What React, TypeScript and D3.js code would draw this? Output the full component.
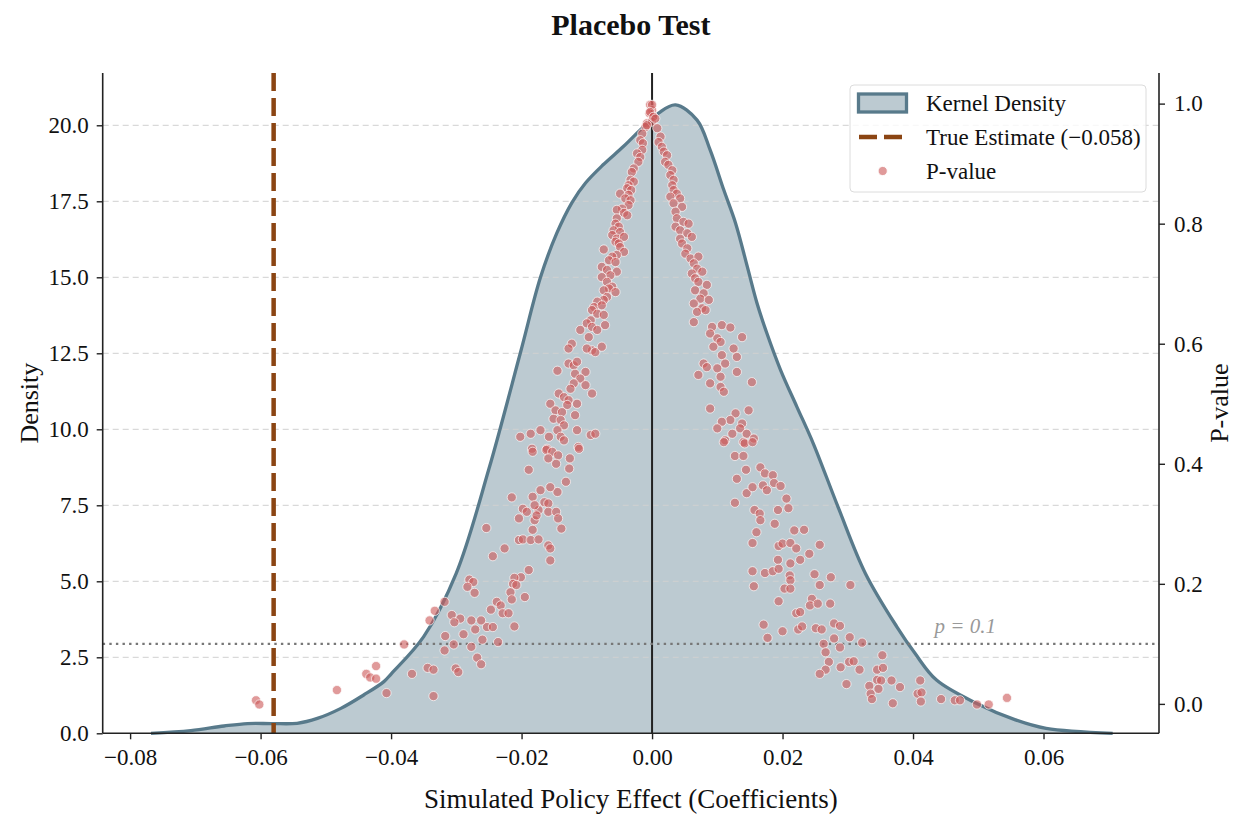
import { useEffect, useRef } from 'react';
import * as d3 from 'd3';

// Kernel density curve (coefficient, density)
const kdeCoef = [
  -0.0768, -0.0707, -0.0656, -0.062, -0.0582, -0.0544, -0.0513, -0.0477, -0.0442, -0.0411,
  -0.04, -0.035, -0.03, -0.025, -0.0202, -0.0171, -0.0146, -0.0123, -0.0102, -0.0075,
  -0.0044, -0.0018, 0.001, 0.0036, 0.0069, 0.0089, 0.011, 0.0128, 0.0146, 0.0161,
  0.0176, 0.0197, 0.0222, 0.0247, 0.0285, 0.0327, 0.0375, 0.0403, 0.0436, 0.0497,
  0.0557, 0.0604, 0.0706,
];
const kdeDensity = [
  0.0, 0.09, 0.24, 0.32, 0.32, 0.33, 0.49, 0.82, 1.26, 1.7,
  1.95, 3.18, 5.27, 8.7, 12.5, 15.0, 16.45, 17.45, 18.1, 18.7,
  19.3, 19.85, 20.4, 20.67, 20.17, 19.19, 17.87, 16.78, 15.35, 14.14,
  13.16, 11.95, 10.74, 9.54, 7.45, 5.26, 3.51, 2.63, 1.75, 0.99,
  0.44, 0.16, 0.0,
];

// Placebo draws: [simulated coefficient, p-value]
const placeboDraws: [number, number][] = [
  [-0.0003, 0.998], [0.0, 0.989], [-0.0004, 0.984], [0.0002, 0.978], [-0.0008, 0.967], [-0.001, 0.961], [0.0, 0.97],
  [-0.0015, 0.95], [-0.0018, 0.939], [-0.0014, 0.934], [-0.0015, 0.923], [-0.0023, 0.917], [-0.0018, 0.911], [-0.0021, 0.903],
  [-0.0028, 0.892], [-0.0031, 0.886], [-0.0033, 0.873], [-0.0028, 0.87], [-0.0036, 0.864], [-0.0038, 0.859], [-0.0032, 0.856],
  [-0.0049, 0.85], [-0.0036, 0.848], [-0.0041, 0.842], [-0.0033, 0.839], [-0.0036, 0.831], [-0.0046, 0.825], [-0.0054, 0.823],
  [-0.0043, 0.818], [-0.0038, 0.814], [-0.0054, 0.809], [-0.0056, 0.8], [-0.0051, 0.795], [-0.0059, 0.789], [-0.0049, 0.786],
  [-0.0061, 0.781], [-0.0054, 0.775], [-0.0043, 0.778], [-0.0056, 0.77], [-0.0051, 0.767], [-0.0049, 0.761], [-0.0043, 0.753],
  [-0.0074, 0.757], [-0.0054, 0.748], [-0.0061, 0.745], [-0.0066, 0.739], [-0.0056, 0.736], [-0.0077, 0.728], [-0.0069, 0.723],
  [-0.0054, 0.72], [-0.0064, 0.714], [-0.0077, 0.711], [-0.0069, 0.703], [-0.0061, 0.695], [-0.0066, 0.692], [-0.0056, 0.686],
  [-0.0074, 0.689], [-0.0069, 0.678], [-0.0074, 0.673], [-0.0084, 0.67], [-0.0089, 0.661], [-0.0077, 0.664], [-0.0092, 0.656],
  [-0.0084, 0.65], [-0.0074, 0.648], [-0.0094, 0.639], [-0.0072, 0.631], [-0.01, 0.634], [-0.0092, 0.628], [-0.0084, 0.623],
  [-0.0097, 0.611], [-0.011, 0.623], [-0.0092, 0.589], [-0.01, 0.592], [-0.0087, 0.586], [-0.0077, 0.595], [-0.0123, 0.6],
  [-0.0128, 0.592], [-0.0128, 0.567], [-0.012, 0.564], [-0.0115, 0.57], [-0.0102, 0.553], [-0.0145, 0.555], [-0.0118, 0.55],
  [-0.011, 0.542], [-0.012, 0.534], [-0.0102, 0.531], [-0.0125, 0.525], [-0.0092, 0.517], [-0.0143, 0.517], [-0.0135, 0.511],
  [-0.0128, 0.506], [-0.0115, 0.5], [-0.0156, 0.5], [-0.013, 0.498], [-0.0148, 0.489], [-0.0138, 0.486], [-0.0118, 0.481],
  [-0.0151, 0.475], [-0.014, 0.473], [-0.0135, 0.464], [-0.0145, 0.456], [-0.0115, 0.456], [-0.0171, 0.456], [-0.0186, 0.45],
  [-0.0202, 0.445], [-0.0158, 0.445], [-0.014, 0.445], [-0.0094, 0.448], [-0.0087, 0.45], [-0.0135, 0.439], [-0.0184, 0.425],
  [-0.0161, 0.425], [-0.0113, 0.428],
  [0.0, 0.998], [-0.0003, 0.986], [0.0002, 0.978], [-0.0008, 0.964], [0.0005, 0.975], [0.0008, 0.959], [0.0013, 0.945],
  [0.001, 0.936], [0.0015, 0.928], [0.0018, 0.92], [0.0023, 0.914], [0.002, 0.903], [0.0025, 0.898], [0.0031, 0.889],
  [0.0028, 0.881], [0.0033, 0.873], [0.0031, 0.864], [0.0033, 0.856], [0.0038, 0.85], [0.0028, 0.845], [0.0043, 0.842],
  [0.0033, 0.834], [0.0046, 0.828], [0.0036, 0.82], [0.0038, 0.809], [0.0048, 0.803], [0.0056, 0.8], [0.0036, 0.795],
  [0.0043, 0.789], [0.0054, 0.784], [0.0061, 0.778], [0.0043, 0.775], [0.0046, 0.767], [0.0054, 0.759], [0.0051, 0.75],
  [0.0059, 0.742], [0.0071, 0.745], [0.0064, 0.734], [0.0069, 0.725], [0.0077, 0.72], [0.0061, 0.717], [0.0066, 0.709],
  [0.0071, 0.703], [0.0084, 0.698], [0.0066, 0.689], [0.0079, 0.684], [0.0074, 0.675], [0.0087, 0.673], [0.0064, 0.667],
  [0.0077, 0.659], [0.0069, 0.653], [0.0082, 0.656], [0.0064, 0.636], [0.0092, 0.628], [0.0107, 0.631], [0.012, 0.627],
  [0.0089, 0.617], [0.01, 0.609], [0.0105, 0.603], [0.0138, 0.611], [0.0094, 0.595], [0.0125, 0.592], [0.0107, 0.581],
  [0.013, 0.578], [0.0112, 0.567], [0.0079, 0.567], [0.0084, 0.561], [0.01, 0.559], [0.0071, 0.548], [0.0089, 0.534],
  [0.0105, 0.545], [0.0105, 0.528], [0.011, 0.52], [0.013, 0.553], [0.0153, 0.536], [0.0089, 0.492], [0.0128, 0.484],
  [0.0148, 0.489], [0.012, 0.473], [0.0138, 0.467], [0.0107, 0.47], [0.01, 0.459], [0.0135, 0.459], [0.0123, 0.45],
  [0.0145, 0.45], [0.0112, 0.439], [0.014, 0.436], [0.0156, 0.442],
  [-0.0183, 0.42], [-0.0162, 0.423], [-0.0153, 0.42], [-0.0144, 0.414], [-0.0159, 0.409], [-0.0126, 0.409], [-0.0147, 0.4],
  [-0.0189, 0.39], [-0.0127, 0.392], [-0.0112, 0.425], [-0.0132, 0.37], [-0.0145, 0.353], [-0.0171, 0.356], [-0.0156, 0.361],
  [-0.0215, 0.344], [-0.0183, 0.345], [-0.0198, 0.325], [-0.0165, 0.336], [-0.0159, 0.334], [-0.0174, 0.323], [-0.018, 0.331],
  [-0.0192, 0.32], [-0.0204, 0.309], [-0.018, 0.306], [-0.0159, 0.32], [-0.0177, 0.314], [-0.0147, 0.32], [-0.0144, 0.309],
  [-0.0183, 0.29], [-0.0139, 0.292], [-0.0254, 0.293], [-0.0204, 0.273], [-0.0198, 0.274], [-0.0186, 0.273], [-0.0174, 0.274],
  [-0.0159, 0.264], [-0.0156, 0.259], [-0.0226, 0.259], [-0.0244, 0.246], [-0.0156, 0.239], [-0.0189, 0.223], [-0.0201, 0.211],
  [-0.0211, 0.21], [-0.028, 0.207], [-0.0274, 0.203], [-0.0213, 0.2], [-0.0208, 0.198], [-0.0283, 0.195], [-0.0272, 0.185],
  [-0.0217, 0.186], [-0.0195, 0.178], [-0.0215, 0.174], [-0.0318, 0.17], [-0.0238, 0.17], [-0.0232, 0.164], [-0.0247, 0.157],
  [-0.0333, 0.155], [-0.0229, 0.151], [-0.022, 0.151], [-0.0307, 0.148], [-0.0294, 0.142], [-0.0277, 0.139], [-0.0262, 0.139],
  [-0.0303, 0.136], [-0.0341, 0.139], [-0.0211, 0.129], [-0.0253, 0.128], [-0.0244, 0.128], [-0.0271, 0.124], [-0.0289, 0.116],
  [-0.0317, 0.113], [-0.026, 0.107], [-0.0236, 0.103], [-0.0304, 0.099], [-0.038, 0.099], [-0.0277, 0.095], [-0.0318, 0.089],
  [-0.0268, 0.077], [-0.0262, 0.066], [-0.0344, 0.06], [-0.0335, 0.057], [-0.0301, 0.059], [-0.0297, 0.053], [-0.0368, 0.05],
  [-0.0423, 0.063], [-0.0438, 0.05], [-0.0432, 0.044], [-0.0423, 0.042], [-0.0407, 0.018], [-0.0483, 0.023], [-0.0335, 0.013],
  [-0.0607, 0.006], [-0.0602, -0.001],
  [0.011, 0.436], [0.0142, 0.434], [0.0154, 0.436], [0.0127, 0.413], [0.014, 0.413], [0.0144, 0.39], [0.013, 0.375],
  [0.0166, 0.394], [0.0173, 0.384], [0.0185, 0.381], [0.0145, 0.351], [0.0127, 0.335], [0.0154, 0.361], [0.017, 0.364],
  [0.0176, 0.356], [0.0187, 0.368], [0.0197, 0.363], [0.0206, 0.342], [0.0209, 0.326], [0.0157, 0.323], [0.0165, 0.317],
  [0.0166, 0.306], [0.0193, 0.323], [0.0188, 0.3], [0.0218, 0.289], [0.0233, 0.29], [0.016, 0.286], [0.0154, 0.268],
  [0.0194, 0.263], [0.02, 0.267], [0.0212, 0.268], [0.0221, 0.259], [0.0257, 0.265], [0.0241, 0.25], [0.0193, 0.24],
  [0.0212, 0.234], [0.0227, 0.24], [0.0154, 0.221], [0.0173, 0.218], [0.0185, 0.221], [0.0194, 0.225], [0.0211, 0.214],
  [0.0212, 0.206], [0.0249, 0.216], [0.0274, 0.211], [0.0304, 0.198], [0.0257, 0.198], [0.0156, 0.196], [0.0203, 0.192],
  [0.0212, 0.192], [0.0245, 0.175], [0.0242, 0.164], [0.0254, 0.167], [0.0273, 0.167], [0.0194, 0.171], [0.0221, 0.151],
  [0.0227, 0.153], [0.0171, 0.132], [0.02, 0.121], [0.0224, 0.124], [0.023, 0.129], [0.0251, 0.126], [0.026, 0.124],
  [0.0279, 0.134], [0.0288, 0.13], [0.0177, 0.11], [0.0263, 0.1], [0.0279, 0.109], [0.0303, 0.111], [0.0322, 0.102],
  [0.0288, 0.094], [0.0266, 0.086], [0.0271, 0.07], [0.0302, 0.07], [0.0309, 0.071], [0.0318, 0.057], [0.0289, 0.061],
  [0.0266, 0.057], [0.0257, 0.05], [0.0353, 0.081], [0.0345, 0.057], [0.0354, 0.06], [0.0298, 0.033], [0.0333, 0.03],
  [0.0345, 0.04], [0.0351, 0.039], [0.0367, 0.039], [0.038, 0.028], [0.0347, 0.025], [0.0335, 0.017], [0.0337, 0.008],
  [0.0369, 0.001], [0.0411, 0.039], [0.0407, 0.017], [0.0413, 0.019], [0.0412, 0.004], [0.0443, 0.008], [0.0464, 0.006],
  [0.0472, 0.006], [0.0498, -0.001], [0.0516, -0.001], [0.0544, 0.01],
];

const xTicks = [-0.08, -0.06, -0.04, -0.02, 0, 0.02, 0.04, 0.06];
const densityTicks = [0, 2.5, 5, 7.5, 10, 12.5, 15, 17.5, 20];
const pTicks = [0, 0.2, 0.4, 0.6, 0.8, 1.0];
const trueEstimate = -0.058;
const pThreshold = 0.1;
const legendLabels = ['Kernel Density', 'True Estimate (\u22120.058)', 'P-value'];

const SERIF = "'Liberation Serif', 'Times New Roman', Times, serif";
const KDE_COLOR = '#587a8b';
const DOT_COLOR = '#cd5c5c';
const EST_COLOR = '#8b4513';

export default function App() {
  const svgRef = useRef<SVGSVGElement>(null);

  useEffect(() => {
    if (!svgRef.current) return;
    const svg = d3.select(svgRef.current);
    svg.selectAll('*').remove();

    const width = 1238;
    const height = 824;
    const margin = { top: 73, right: 79, bottom: 90.7, left: 102.7 };
    const innerW = width - margin.left - margin.right;
    const innerH = height - margin.top - margin.bottom;

    const x = d3.scaleLinear().domain([-0.0842, 0.0777]).range([0, innerW]);
    const yD = d3.scaleLinear().domain([0, 21.72]).range([innerH, 0]);
    const yP = d3.scaleLinear().domain([-0.049, 1.051]).range([innerH, 0]);

    const g = svg.append('g').attr('transform', `translate(${margin.left},${margin.top})`);

    // KDE fill
    const kde = kdeCoef.map((c, i) => ({ c, d: kdeDensity[i] }));
    const smooth = d3.curveCatmullRom.alpha(0.5);
    const area = d3.area<{ c: number; d: number }>()
      .x(d => x(d.c))
      .y0(yD(0))
      .y1(d => yD(d.d))
      .curve(smooth);
    g.append('path')
      .datum(kde)
      .attr('d', area)
      .attr('fill', KDE_COLOR)
      .attr('fill-opacity', 0.4);

    // grid lines (density ticks)
    g.append('g')
      .selectAll('line')
      .data(densityTicks.filter(t => t > 0))
      .enter().append('line')
      .attr('x1', 0)
      .attr('x2', innerW)
      .attr('y1', d => yD(d))
      .attr('y2', d => yD(d))
      .attr('stroke', '#d0d0d0')
      .attr('stroke-opacity', 0.8)
      .attr('stroke-width', 1.2)
      .attr('stroke-dasharray', '6,4');

    // KDE outline
    const line = d3.line<{ c: number; d: number }>()
      .x(d => x(d.c))
      .y(d => yD(d.d))
      .curve(smooth);
    g.append('path')
      .datum(kde)
      .attr('d', line)
      .attr('fill', 'none')
      .attr('stroke', KDE_COLOR)
      .attr('stroke-width', 3.3);

    // zero line
    g.append('line')
      .attr('x1', x(0)).attr('x2', x(0))
      .attr('y1', 0).attr('y2', innerH)
      .attr('stroke', '#222')
      .attr('stroke-width', 2);

    // true estimate
    g.append('line')
      .attr('x1', x(trueEstimate)).attr('x2', x(trueEstimate))
      .attr('y1', 0).attr('y2', innerH)
      .attr('stroke', EST_COLOR)
      .attr('stroke-width', 4.5)
      .attr('stroke-dasharray', '18,7');

    // p = 0.1 threshold
    g.append('line')
      .attr('x1', 0).attr('x2', innerW)
      .attr('y1', yP(pThreshold)).attr('y2', yP(pThreshold))
      .attr('stroke', '#777')
      .attr('stroke-width', 2.4)
      .attr('stroke-dasharray', '2.4,4.2');

    g.append('text')
      .attr('x', x(0.0433))
      .attr('y', yP(pThreshold) - 11)
      .style('font-family', SERIF)
      .style('font-style', 'italic')
      .style('font-size', '21px')
      .style('fill', '#999')
      .text('p = 0.1');

    // p-value scatter
    g.append('g')
      .selectAll('circle')
      .data(placeboDraws)
      .enter().append('circle')
      .attr('cx', d => x(d[0]))
      .attr('cy', d => yP(d[1]))
      .attr('r', 4.6)
      .attr('fill', DOT_COLOR)
      .attr('fill-opacity', 0.62)
      .attr('stroke', '#fff')
      .attr('stroke-opacity', 0.75)
      .attr('stroke-width', 0.9);

    // axes
    const fmt1 = d3.format('.1f');
    const bottomAxis = g.append('g')
      .attr('transform', `translate(0,${innerH})`)
      .call(d3.axisBottom(x).tickValues(xTicks).tickFormat(d3.format('.2f')).tickSize(6).tickSizeOuter(0).tickPadding(9));
    const leftAxis = g.append('g')
      .call(d3.axisLeft(yD).tickValues(densityTicks).tickFormat(d => fmt1(d as number)).tickSize(6).tickSizeOuter(0).tickPadding(8));
    const rightAxis = g.append('g')
      .attr('transform', `translate(${innerW},0)`)
      .call(d3.axisRight(yP).tickValues(pTicks).tickFormat(d => fmt1(d as number)).tickSize(6).tickSizeOuter(0).tickPadding(9));

    [bottomAxis, leftAxis, rightAxis].forEach(ax => {
      ax.select('.domain').remove();
      ax.selectAll('line').attr('stroke', '#222').attr('stroke-width', 1.4);
      ax.selectAll('text')
        .style('font-family', SERIF)
        .style('font-size', '23px')
        .style('fill', '#111');
    });

    // spines
    const spine = (x1: number, y1: number, x2: number, y2: number) =>
      g.append('line')
        .attr('x1', x1).attr('y1', y1).attr('x2', x2).attr('y2', y2)
        .attr('stroke', '#222').attr('stroke-width', 1.6);
    spine(0, innerH, innerW, innerH);
    spine(0, 0, 0, innerH);
    spine(innerW, 0, innerW, innerH);

    // labels
    svg.append('text')
      .attr('x', margin.left + innerW / 2)
      .attr('y', 35)
      .attr('text-anchor', 'middle')
      .style('font-family', SERIF)
      .style('font-size', '30px')
      .style('font-weight', 'bold')
      .style('fill', '#111')
      .text('Placebo Test');

    svg.append('text')
      .attr('x', margin.left + innerW / 2)
      .attr('y', 808)
      .attr('text-anchor', 'middle')
      .style('font-family', SERIF)
      .style('font-size', '27px')
      .style('fill', '#111')
      .text('Simulated Policy Effect (Coefficients)');

    svg.append('text')
      .attr('transform', `translate(38,${margin.top + innerH / 2}) rotate(-90)`)
      .attr('text-anchor', 'middle')
      .style('font-family', SERIF)
      .style('font-size', '26px')
      .style('fill', '#111')
      .text('Density');

    svg.append('text')
      .attr('transform', `translate(1228,${margin.top + innerH / 2}) rotate(-90)`)
      .attr('text-anchor', 'middle')
      .style('font-family', SERIF)
      .style('font-size', '26px')
      .style('fill', '#111')
      .text('P-value');

    // legend
    const legend = svg.append('g').attr('transform', 'translate(850,85)');
    legend.append('rect')
      .attr('width', 296)
      .attr('height', 107)
      .attr('rx', 4)
      .attr('fill', '#fff')
      .attr('fill-opacity', 0.8)
      .attr('stroke', '#dcdcdc');
    legend.append('rect')
      .attr('x', 8.5).attr('y', 9)
      .attr('width', 48).attr('height', 18)
      .attr('fill', KDE_COLOR)
      .attr('fill-opacity', 0.4)
      .attr('stroke', KDE_COLOR)
      .attr('stroke-width', 3.3);
    legend.append('line')
      .attr('x1', 9).attr('x2', 54)
      .attr('y1', 52).attr('y2', 52)
      .attr('stroke', EST_COLOR)
      .attr('stroke-width', 4.5)
      .attr('stroke-dasharray', '18,7');
    legend.append('circle')
      .attr('cx', 32.7).attr('cy', 86)
      .attr('r', 4.6)
      .attr('fill', DOT_COLOR)
      .attr('fill-opacity', 0.62)
      .attr('stroke', '#fff')
      .attr('stroke-width', 0.9);
    legend.selectAll('text.lbl')
      .data(legendLabels)
      .enter().append('text')
      .attr('class', 'lbl')
      .attr('x', 76)
      .attr('y', (d, i) => 18 + i * 34)
      .attr('dy', '0.35em')
      .style('font-family', SERIF)
      .style('font-size', '23px')
      .style('fill', '#111')
      .text(d => d);
  }, []);

  return (
    <svg
      ref={svgRef}
      width={1238}
      height={824}
      style={{ position: 'absolute', left: 0, top: 0, background: '#fff' }}
    />
  );
}
